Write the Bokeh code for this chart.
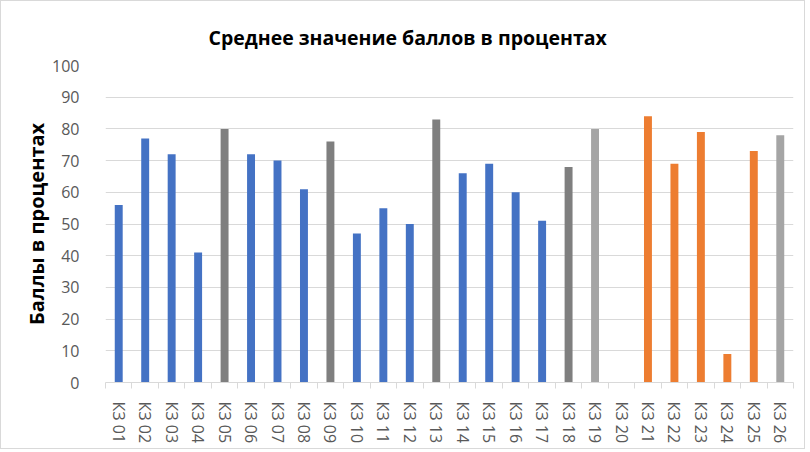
from bokeh.plotting import figure
from bokeh.models import Range1d, FixedTicker, ColumnDataSource, Title
from bokeh.transform import factor_cmap
from bokeh.embed import file_html
from bokeh.resources import INLINE
import numpy as np

categories = ["КЗ 01", "КЗ 02", "КЗ 03", "КЗ 04", "КЗ 05", "КЗ 06", "КЗ 07", "КЗ 08", "КЗ 09",
              "КЗ 10", "КЗ 11", "КЗ 12", "КЗ 13", "КЗ 14", "КЗ 15", "КЗ 16", "КЗ 17", "КЗ 18",
              "КЗ 19", "КЗ 20", "КЗ 21", "КЗ 22", "КЗ 23", "КЗ 24", "КЗ 25", "КЗ 26"]
values = [56, 77, 72, 41, 80, 72, 70, 61, 76, 47, 55, 50, 83, 66, 69, 60, 51, 68,
          80, None, 84, 69, 79, 9, 73, 78]
groups = ["s1", "s1", "s1", "s1", "s2", "s1", "s1", "s1", "s2", "s1", "s1", "s1", "s2",
          "s1", "s1", "s1", "s1", "s2", "s3", "s3", "s4", "s4", "s4", "s4", "s4", "s3"]
group_names = ["s1", "s2", "s3", "s4"]
palette = ["#4472C4", "#7F7F7F", "#A5A5A5", "#ED7D31"]
y_ticks = [0, 10, 20, 30, 40, 50, 60, 70, 80, 90, 100]

n = len(categories)
xs = list(range(1, n + 1))
tops = [np.nan if v is None else v for v in values]
src = ColumnDataSource(dict(x=xs, top=tops, grp=groups))

p = figure(width=805, height=449, output_backend="svg", toolbar_location=None,
           x_range=Range1d(0.5, n + 0.5), y_range=Range1d(0, 100),
           min_border_left=104, min_border_right=13, min_border_top=64, min_border_bottom=68)
p.styles = {"border": "1px solid #D9D9D9"}
p.outline_line_color = None
p.background_fill_color = "white"
p.border_fill_color = "white"

p.vbar(x="x", top="top", width=0.3, source=src,
       fill_color=factor_cmap("grp", palette, group_names), line_color=None)

title = Title(text="Среднее значение баллов в процентах", align="left", offset=103,
              text_font="Open Sans", text_font_size="19.5px", text_font_style="bold",
              text_color="#000000", standoff=30)
p.add_layout(title, "above")

# y axis
p.yaxis.ticker = FixedTicker(ticks=y_ticks)
p.yaxis.axis_line_color = None
p.yaxis.major_tick_line_color = None
p.yaxis.minor_tick_line_color = None
p.yaxis.major_label_standoff = 20
p.yaxis.major_label_text_font = "Open Sans"
p.yaxis.major_label_text_font_size = "16px"
p.yaxis.major_label_text_color = "#595959"
p.yaxis.axis_label = "Баллы в процентах"
p.yaxis.axis_label_text_font = "Open Sans"
p.yaxis.axis_label_text_font_size = "20px"
p.yaxis.axis_label_text_font_style = "bold"
p.yaxis.axis_label_text_color = "#000000"
p.yaxis.axis_label_standoff = -1
p.ygrid.grid_line_color = "#D9D9D9"
p.ygrid.grid_line_width = 1

# x axis
p.xaxis.ticker = FixedTicker(ticks=xs, minor_ticks=[x - 0.5 for x in xs] + [n + 0.5])
p.xaxis.major_label_overrides = {x: c for x, c in zip(xs, categories)}
p.xaxis.major_label_orientation = "vertical"
p.xaxis.axis_line_color = "#D9D9D9"
p.xaxis.major_tick_line_color = None
p.xaxis.major_tick_out = 0
p.xaxis.major_tick_in = 0
p.xaxis.minor_tick_line_color = "#D9D9D9"
p.xaxis.minor_tick_out = 6
p.xaxis.minor_tick_in = 0
p.xaxis.major_label_standoff = 13
p.xaxis.major_label_text_font = "Open Sans"
p.xaxis.major_label_text_font_size = "16px"
p.xaxis.major_label_text_color = "#595959"
p.xgrid.grid_line_color = None

open("out.html", "w").write(file_html(p, INLINE))
